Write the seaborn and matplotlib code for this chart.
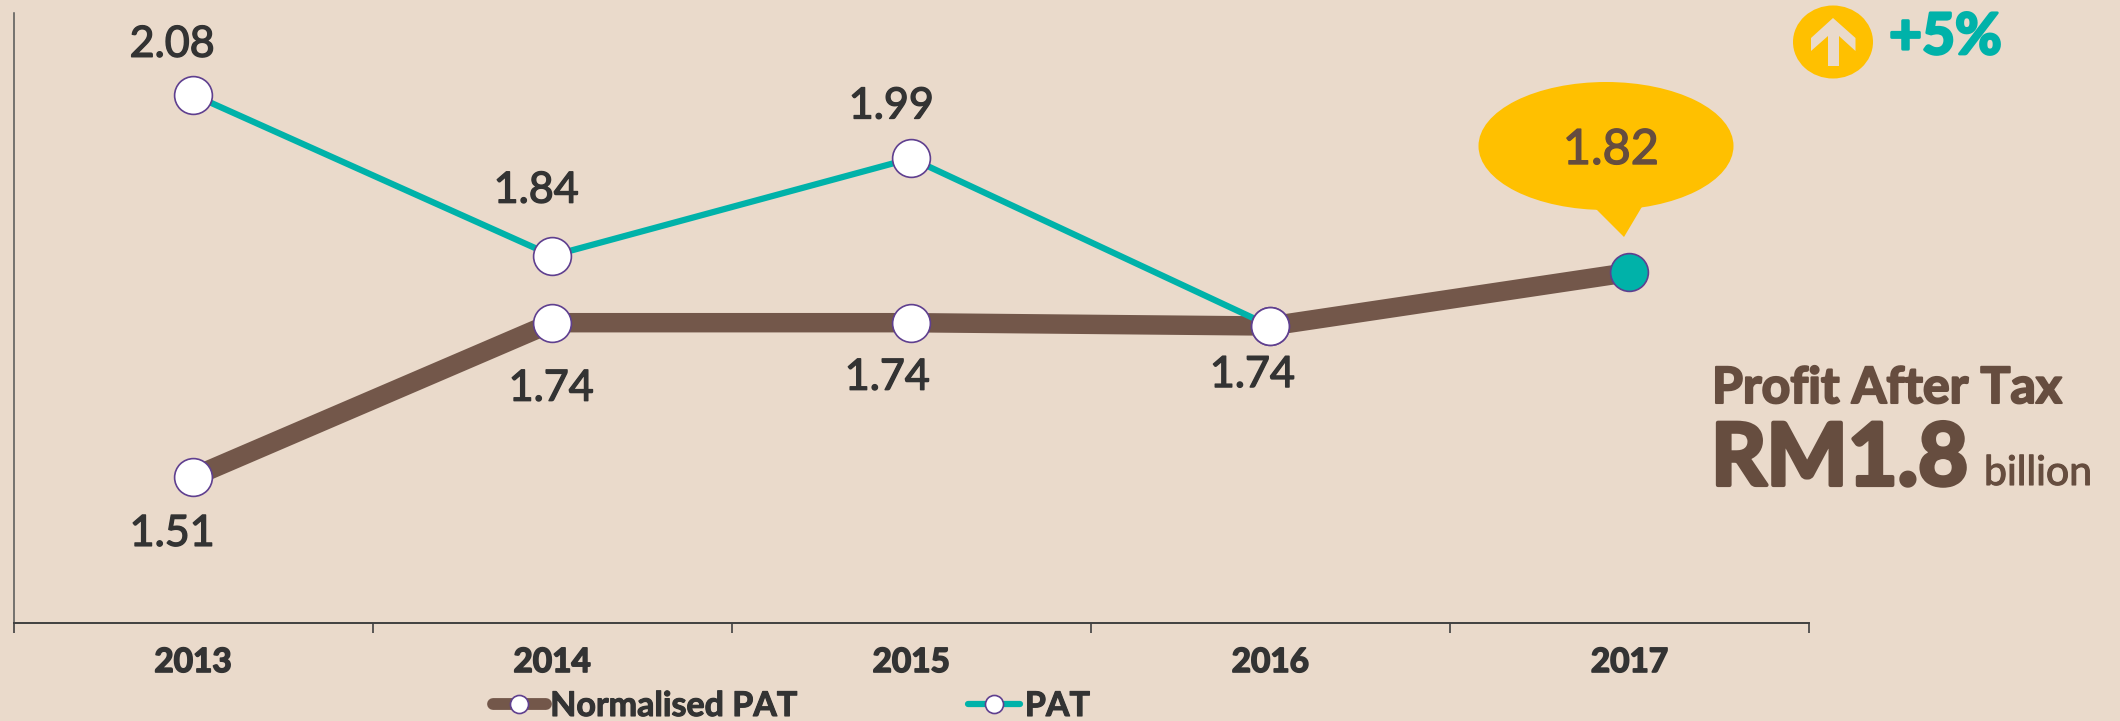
import matplotlib
matplotlib.use('Agg')
import matplotlib.pyplot as plt
import matplotlib.patches as mpatches
import matplotlib.patheffects as pe
from matplotlib.lines import Line2D
import pandas as pd
import seaborn as sns

years = [2013, 2014, 2015, 2016, 2017]
normalised_pat = [1.51, 1.74, 1.74, 1.735, 1.815]
normalised_labels = ['1.51', '1.74', '1.74', '1.74', '1.82']
pat_years = [2013, 2014, 2015, 2016]
pat = [2.08, 1.84, 1.985, 1.735]
pat_labels = ['2.08', '1.84', '1.99', None]

BG = '#EADACB'
TEAL = '#00B2A9'
BROWN = '#73574A'
DARK_BROWN = '#664D3F'
YELLOW = '#FFC000'
INK = '#333333'
PURPLE = '#5F3F8F'
W, H = 2120, 721

sns.set_theme(style='ticks')
plt.rcParams['font.family'] = ['Lato', 'DejaVu Sans']

fig = plt.figure(figsize=(W / 100, H / 100), dpi=100, facecolor=BG)
ax = fig.add_axes([13.5 / W, (H - 623) / H, (1809 - 13.5) / W, (623 - 13) / H], facecolor='none')

df_norm = pd.DataFrame({'year': years, 'value': normalised_pat})
df_pat = pd.DataFrame({'year': pat_years, 'value': pat})

# Lines first, markers on top of both
sns.lineplot(data=df_norm, x='year', y='value', color=BROWN, linewidth=14, ax=ax, zorder=2)
sns.lineplot(data=df_pat, x='year', y='value', color=TEAL, linewidth=4.5, ax=ax, zorder=3)
sns.scatterplot(data=df_pat, x='year', y='value', color='white', edgecolor=PURPLE, linewidth=1.2, s=740, ax=ax, zorder=5)
sns.scatterplot(data=df_norm.iloc[:-1], x='year', y='value', color='white', edgecolor=PURPLE, linewidth=1.2, s=740, ax=ax, zorder=5)
sns.scatterplot(data=df_norm.iloc[-1:], x='year', y='value', color=TEAL, edgecolor=PURPLE, linewidth=1.2, s=740, ax=ax, zorder=5)

ax.set_xlim(2012.5, 2017.5)
ax.set_ylim(1.292, 2.202)
ax.set_xlabel('')
ax.set_ylabel('')
ax.set_yticks([])
ax.set_xticks(years)
# Lato has few weights installed, so heavy text gets a thin stroke of its own colour
ax.set_xticklabels([str(y) for y in years], fontsize=24, fontweight='bold', color=INK,
                   path_effects=[pe.withStroke(linewidth=1.2, foreground=INK)])
ax.set_xticks([y - 0.5 for y in years] + [2017.5], minor=True)
ax.tick_params(axis='x', which='major', length=0, pad=18)
ax.tick_params(axis='x', which='minor', length=7.5, width=1.2, color='#404040')
for side in ['top', 'right']:
    ax.spines[side].set_visible(False)
ax.spines['bottom'].set_color('#404040')
ax.spines['bottom'].set_linewidth(1.4)
ax.spines['left'].set_color('#555555')
ax.spines['left'].set_linewidth(1.1)

# Value labels, offsets in pixels from each point
pat_offsets = [(-21, 50), (-16, 65), (-20, 52)]
norm_offsets = [(-21, -57), (-1, -66), (-24, -55), (-18, -49)]
label_stroke = [pe.withStroke(linewidth=1, foreground=INK)]
for y, v, lab, off in zip(pat_years, pat, pat_labels, pat_offsets):
    ax.annotate(lab, (y, v), xytext=off, textcoords='offset pixels', ha='center', va='center',
                fontsize=31, color=INK, path_effects=label_stroke)
for y, v, lab, off in zip(years, normalised_pat, normalised_labels, norm_offsets):
    ax.annotate(lab, (y, v), xytext=off, textcoords='offset pixels', ha='center', va='center',
                fontsize=31, color=INK, path_effects=label_stroke)

# Overlay in image pixels for the callout and side text
ov = fig.add_axes([0, 0, 1, 1], facecolor='none')
ov.set_xlim(0, W)
ov.set_ylim(H, 0)
ov.axis('off')

ov.add_patch(mpatches.Ellipse((1606, 146), 255, 128, color=YELLOW, lw=0))
ov.add_patch(mpatches.Polygon([(1594, 207), (1643, 205), (1624, 237)], color=YELLOW, lw=0))
ov.text(1611, 150, normalised_labels[-1], ha='center', va='center', fontsize=35, color=DARK_BROWN,
        path_effects=[pe.withStroke(linewidth=1, foreground=DARK_BROWN)])

ov.add_patch(mpatches.Ellipse((1833, 42), 80, 73, color=YELLOW, lw=0))
ov.add_patch(mpatches.Polygon([(1833, 18), (1855.5, 38), (1855.5, 51), (1839, 36), (1839, 66),
                               (1828, 66), (1828, 36), (1811, 51), (1811, 38)], color=BG, lw=0))
ov.text(1889, 54, '+5%', ha='left', va='baseline', fontsize=41, fontweight='bold', color=TEAL,
        path_effects=[pe.withStroke(linewidth=2, foreground=TEAL)])

ov.text(1712, 403, 'Profit After Tax', ha='left', va='baseline', fontsize=36, fontweight='bold', color=DARK_BROWN,
        path_effects=[pe.withStroke(linewidth=1.5, foreground=DARK_BROWN)])
ov.text(1711, 485, 'RM1.8', ha='left', va='baseline', fontsize=62, fontweight='bold', color=DARK_BROWN,
        path_effects=[pe.withStroke(linewidth=3, foreground=DARK_BROWN)])
ov.text(1984, 485, 'billion', ha='left', va='baseline', fontsize=29.5, color=DARK_BROWN,
        path_effects=[pe.withStroke(linewidth=0.8, foreground=DARK_BROWN)])

handles = [
    Line2D([], [], color=BROWN, linewidth=8.5, solid_capstyle='round', marker='o', markersize=13,
           markerfacecolor='white', markeredgecolor=PURPLE, markeredgewidth=1.2),
    Line2D([], [], color=TEAL, linewidth=4.5, solid_capstyle='round', marker='o', markersize=13,
           markerfacecolor='white', markeredgecolor=PURPLE, markeredgewidth=1.2),
]
leg = fig.legend(handles, ['Normalised PAT', 'PAT'], ncols=2, frameon=False, loc='center left',
                 bbox_to_anchor=(493 / W, (H - 706) / H), borderaxespad=0, borderpad=0,
                 handlelength=1.55, handletextpad=0.13, columnspacing=5.0,
                 prop={'size': 24.5, 'weight': 'bold'})
for t in leg.get_texts():
    t.set_color(INK)
    t.set_path_effects([pe.withStroke(linewidth=0.8, foreground=INK)])

fig.savefig('out.png', dpi=100, facecolor=BG)
